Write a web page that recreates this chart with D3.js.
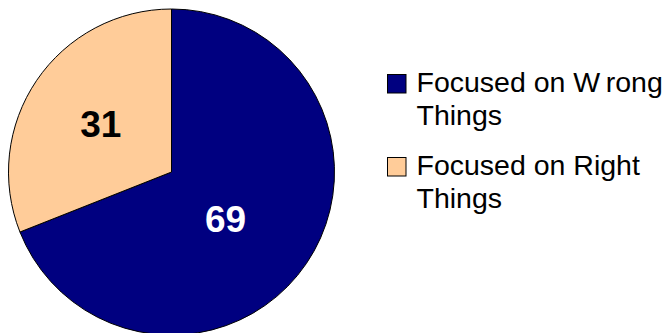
<!DOCTYPE html>
<html>
<head>
<meta charset="utf-8">
<script src="https://cdn.jsdelivr.net/npm/d3@7"></script>
<style>
  html, body { margin: 0; padding: 0; background: #fff; }
  svg { display: block; }
  text { font-family: "Liberation Sans", Arial, sans-serif; }
</style>
</head>
<body>
<div id="chart"></div>
<script>
// Share of attention (percent)
const categories = ["Focused on Wrong Things", "Focused on Right Things"];
const values = [69, 31];
const legendLines = [["Focused on Wrong", "Things"], ["Focused on Right", "Things"]];
const sliceColors = ["#000080", "#FFCC99"];
const labelColors = ["#ffffff", "#000000"];

const width = 668, height = 333;
const cx = 171.5, cy = 172, radius = 163;

const svg = d3.select("#chart").append("svg")
  .attr("width", width).attr("height", height);

const pie = d3.pie().sort(null).value(d => d)(values);
const arc = d3.arc().innerRadius(0).outerRadius(radius);

const g = svg.append("g").attr("transform", `translate(${cx},${cy})`);

g.selectAll("path.slice")
  .data(pie)
  .join("path")
  .attr("class", "slice")
  .attr("d", arc)
  .attr("fill", (d, i) => sliceColors[i])
  .attr("stroke", "#000")
  .attr("stroke-width", 1)
  .attr("stroke-linejoin", "miter");

// Label placement inside each slice: radius fraction and angular shift (radians)
const labelPlace = [{ r: 0.44, shift: 0.12 }, { r: 0.525, shift: 0 }];
const fontSize = 37;

g.selectAll("text.value")
  .data(pie)
  .join("text")
  .attr("class", "value")
  .each(function (d, i) {
    const p = labelPlace[i];
    const a = (d.startAngle + d.endAngle) / 2 + p.shift;
    const rr = radius * p.r;
    d3.select(this)
      .attr("x", Math.sin(a) * rr)
      .attr("y", -Math.cos(a) * rr + fontSize * 0.36);
  })
  .attr("text-anchor", "middle")
  .attr("font-size", fontSize)
  .attr("font-weight", "bold")
  .attr("fill", (d, i) => labelColors[i])
  .text(d => d.data);

// Legend
const legend = svg.append("g").attr("transform", "translate(387,74)");
const itemGap = 83, lineGap = 33, box = 18.5, textX = 29.5;

const items = legend.selectAll("g.item")
  .data(categories)
  .join("g")
  .attr("class", "item")
  .attr("transform", (d, i) => `translate(0,${i * itemGap})`);

items.append("rect")
  .attr("x", 0.5).attr("y", 0.5)
  .attr("width", box).attr("height", box)
  .attr("fill", (d, i) => sliceColors[i])
  .attr("stroke", "#000")
  .attr("stroke-width", 1);

items.each(function (d, i) {
  const t = d3.select(this).append("text")
    .attr("x", textX)
    .attr("y", 17.5)
    .attr("font-size", 28.5)
    .attr("fill", "#000");
  legendLines[i].forEach((line, j) => {
    const ts = t.append("tspan")
      .attr("x", textX)
      .attr("dy", j === 0 ? 0 : lineGap);
    // loose spacing after a capital W, as in the original typesetting
    const parts = line.split(/(?<=W)/);
    parts.forEach((part, k) => {
      ts.append("tspan").attr("dx", k > 0 ? 6 : null).text(part);
    });
  });
});
</script>
</body>
</html>
